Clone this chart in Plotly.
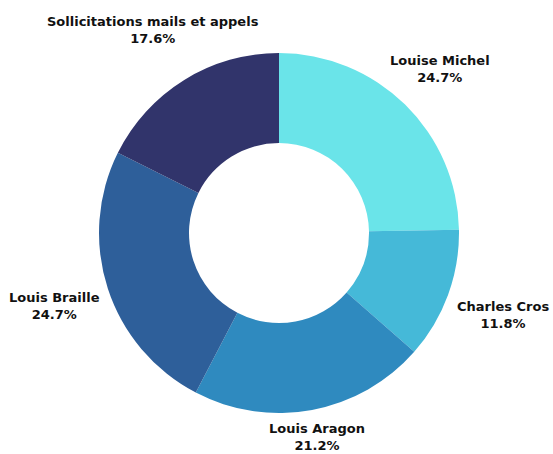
import math
import plotly.graph_objects as go

labels = ["Louise Michel", "Charles Cros", "Louis Aragon", "Louis Braille", "Sollicitations mails et appels"]
values = [21, 10, 18, 21, 15]
colors = ["#6ae4e9", "#45b9d8", "#2f8abf", "#2e5f9a", "#31346b"]

# layout: label distance (px) from centre for each slice label
label_dist = [230, 239, 208, 236, 239]

W, H = 553, 454
ML, MR, MT, MB = 5, 0, 53, 41
pw, ph = W - ML - MR, H - MT - MB

fig = go.Figure(go.Pie(
    labels=labels,
    values=values,
    hole=0.5,
    sort=False,
    direction="clockwise",
    rotation=0,
    marker=dict(colors=colors, line=dict(width=0)),
    textinfo="none",
    hoverinfo="label+percent",
    showlegend=False,
    automargin=False,
))

total = sum(values)
cum = 0
for lab, v, d in zip(labels, values, label_dist):
    mid = (cum + v / 2) / total * 2 * math.pi
    cum += v
    dx = d * math.sin(mid)
    dy = d * math.cos(mid)
    fig.add_annotation(
        x=0.5 + dx / pw, y=0.5 + dy / ph,
        xref="paper", yref="paper",
        xanchor="center", yanchor="middle",
        text=f"<b>{lab}</b><br><b>{v / total * 100:.1f}%</b>",
        showarrow=False,
        align="center",
        font=dict(family="DejaVu Sans", size=13, color="#111111"),
    )

fig.update_layout(
    width=W, height=H,
    margin=dict(l=ML, r=MR, t=MT, b=MB),
    paper_bgcolor="white",
    plot_bgcolor="white",
)
fig.write_html("out.html")
